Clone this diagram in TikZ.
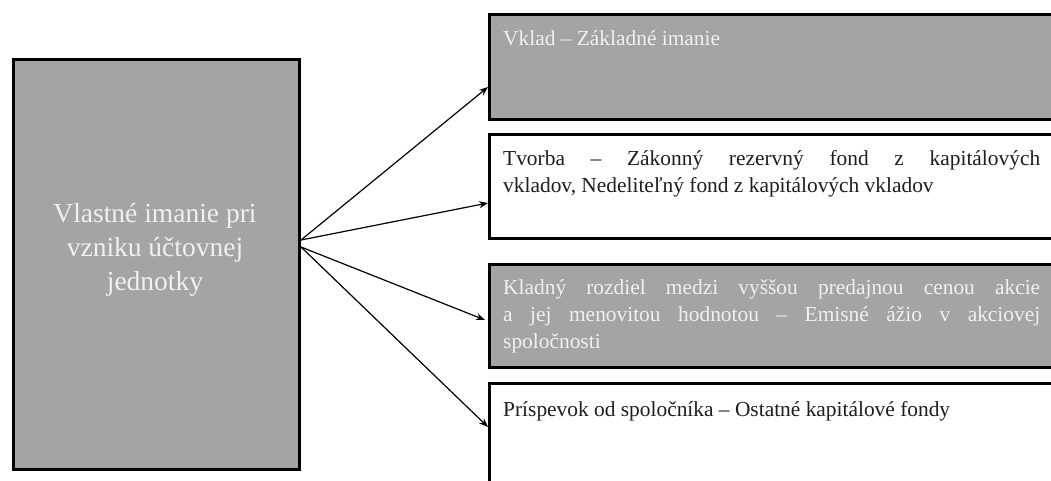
\documentclass[tikz,border=0pt]{standalone}
\usepackage{fontspec}
\setmainfont{Liberation Serif}
\usetikzlibrary{arrows.meta,shadows}
\definecolor{boxgray}{HTML}{A4A4A4}
\definecolor{lighttext}{HTML}{F0F0F0}
\definecolor{darktext}{HTML}{1E1E1E}
\begin{document}
\begin{tikzpicture}[x=1pt,y=1pt,
  frame/.style={draw=black, line width=3pt, inner sep=0pt, anchor=north west,
    drop shadow={shadow xshift=1.8pt, shadow yshift=-1.8pt, fill=black!30, opacity=0.6}},
  grayframe/.style={frame, fill=boxgray},
  whiteframe/.style={frame, fill=white},
  rtext/.style={anchor=base west, inner sep=0pt, text width=537pt, align=justify,
    font=\fontsize{21.4}{27}\selectfont},
  ltext/.style={anchor=base, inner sep=0pt, align=center, text=lighttext,
    font=\fontsize{27.5}{34}\selectfont},
  conn/.style={line width=1.2pt, -{Stealth[length=9pt,width=7pt]}}
]
\useasboundingbox (0,0) rectangle (1051,-480);
\fill[white] (0,0) rectangle (1051,-480);

% left box
\node[grayframe, minimum width=286pt, minimum height=410pt] (L) at (12,-58) {};
\node[ltext] (Lt) at (155,-290) {Vlastné imanie pri\\vzniku účtovnej\\jednotky};

% right boxes
\node[grayframe, minimum width=590pt, minimum height=105pt] (B1) at (488,-13) {};
\node[whiteframe, minimum width=590pt, minimum height=104pt] (B2) at (488,-133) {};
\node[grayframe, minimum width=590pt, minimum height=103pt] (B3) at (488,-263) {};
\node[whiteframe, minimum width=590pt, minimum height=130pt] (B4) at (488,-382) {};

\node[rtext, text=lighttext] (T1) at (503,-45) {Vklad – Základné imanie};
\node[rtext, text=darktext] (T2) at (503,-165) {Tvorba – Zákonný rezervný fond z~kapitálových\linebreak vkladov, Nedeliteľný fond z kapitálových vkladov};
\node[rtext, text=lighttext] (T3) at (503,-294) {Kladný rozdiel medzi vyššou predajnou cenou akcie\linebreak a~jej menovitou hodnotou – Emisné ážio v~akciovej\linebreak spoločnosti};
\node[rtext, text=darktext] (T4) at (503,-416) {Príspevok od spoločníka – Ostatné kapitálové fondy};

% connectors
\coordinate (o1) at (L.east |- 0,-240);
\coordinate (o2) at (L.east |- 0,-247);
\coordinate (e1) at (B1.west |- 0,-87);
\coordinate (e2) at (B2.west |- 0,-203);
\coordinate (e3) at ([xshift=-3pt]B3.west |- 0,-320);
\coordinate (e4) at (B4.west |- 0,-427);
\draw[conn] (o1) -- (e1);
\draw[conn] (o1) -- (e2);
\draw[conn] (o2) -- (e3);
\draw[conn] (o2) -- (e4);
\end{tikzpicture}
\end{document}
